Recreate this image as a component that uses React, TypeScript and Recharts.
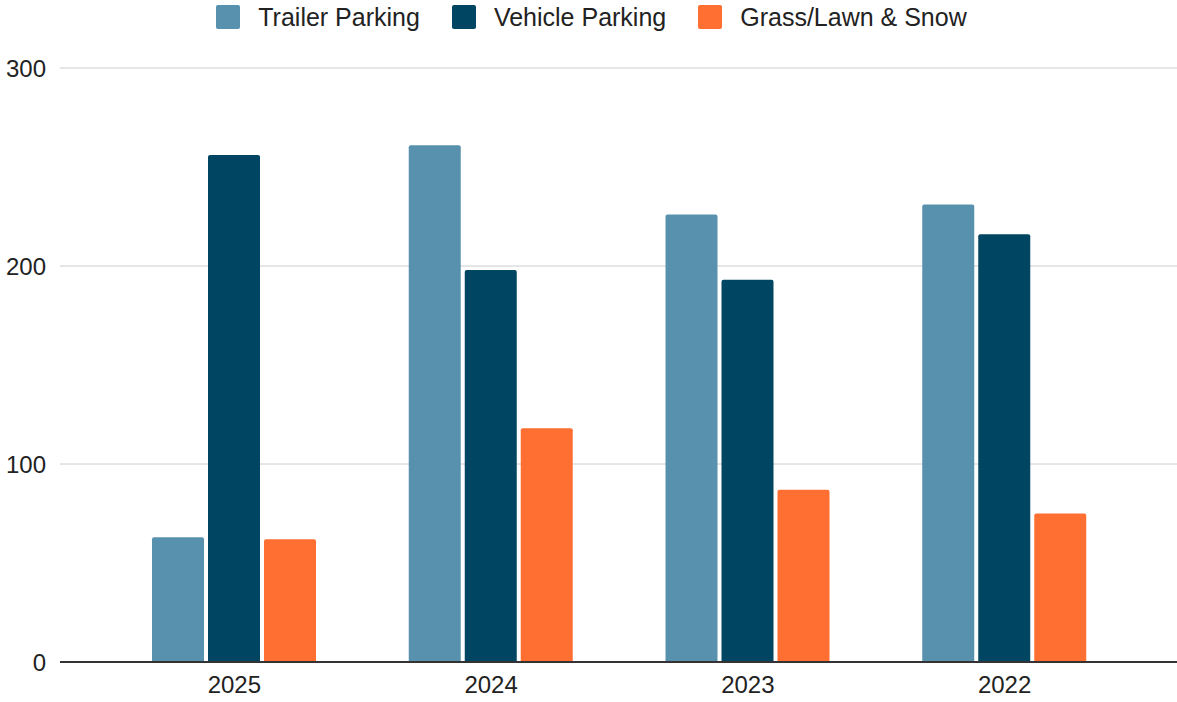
import React from "react";
import {
  BarChart,
  Bar,
  XAxis,
  YAxis,
  CartesianGrid,
  Legend,
} from "recharts";

const YEARS = ["2025", "2024", "2023", "2022"];
const TRAILER_PARKING = [63, 261, 226, 231];
const VEHICLE_PARKING = [256, 198, 193, 216];
const GRASS_LAWN_SNOW = [62, 118, 87, 75];
const Y_TICKS = [0, 100, 200, 300];

const SERIES = [
  { key: "trailer", name: "Trailer Parking", color: "#5891ad" },
  { key: "vehicle", name: "Vehicle Parking", color: "#004561" },
  { key: "grass", name: "Grass/Lawn & Snow", color: "#ff6f31" },
];

const data = YEARS.map((year, i) => ({
  year,
  trailer: TRAILER_PARKING[i],
  vehicle: VEHICLE_PARKING[i],
  grass: GRASS_LAWN_SNOW[i],
}));

const FONT = "'Liberation Sans', Arial, sans-serif";

function renderLegend() {
  return (
    <div
      style={{
        height: 34,
        display: "flex",
        justifyContent: "center",
        alignItems: "center",
        fontFamily: FONT,
        fontSize: 25,
        color: "#222",
        paddingLeft: 6,
      }}
    >
      {SERIES.map((s) => (
        <div
          key={s.key}
          style={{ display: "flex", alignItems: "center", margin: "0 16px" }}
        >
          <span
            style={{
              width: 24,
              height: 24,
              borderRadius: 2,
              background: s.color,
              marginRight: 18,
              display: "inline-block",
            }}
          />
          <span>{s.name}</span>
        </div>
      ))}
    </div>
  );
}

export default function App() {
  return (
    <div style={{ position: "absolute", left: 0, top: 0, background: "#fff" }}>
      <BarChart
        width={1177}
        height={702}
        data={data}
        margin={{ top: 34, right: 0, left: 0, bottom: 0 }}
        barCategoryGap={46}
        barGap={4}
      >
        <CartesianGrid vertical={false} stroke="#cccccc" />
        <XAxis
          dataKey="year"
          height={40}
          padding={{ left: 46, right: 44 }}
          axisLine={{ stroke: "#333333", strokeWidth: 2 }}
          tickLine={false}
          tickSize={0}
          tickMargin={14}
          tick={{ fill: "#222", fontSize: 24, fontFamily: FONT }}
        />
        <YAxis
          width={60}
          domain={[0, 300]}
          ticks={Y_TICKS}
          axisLine={false}
          tickLine={false}
          tickSize={0}
          tickMargin={14}
          tick={{ fill: "#222", fontSize: 24, fontFamily: FONT }}
        />
        <Legend
          verticalAlign="top"
          align="center"
          wrapperStyle={{ top: 0, left: 0, width: 1177 }}
          content={renderLegend}
        />
        {SERIES.map((s) => (
          <Bar
            key={s.key}
            dataKey={s.key}
            name={s.name}
            fill={s.color}
            radius={[2, 2, 0, 0]}
            isAnimationActive={false}
          />
        ))}
      </BarChart>
    </div>
  );
}
